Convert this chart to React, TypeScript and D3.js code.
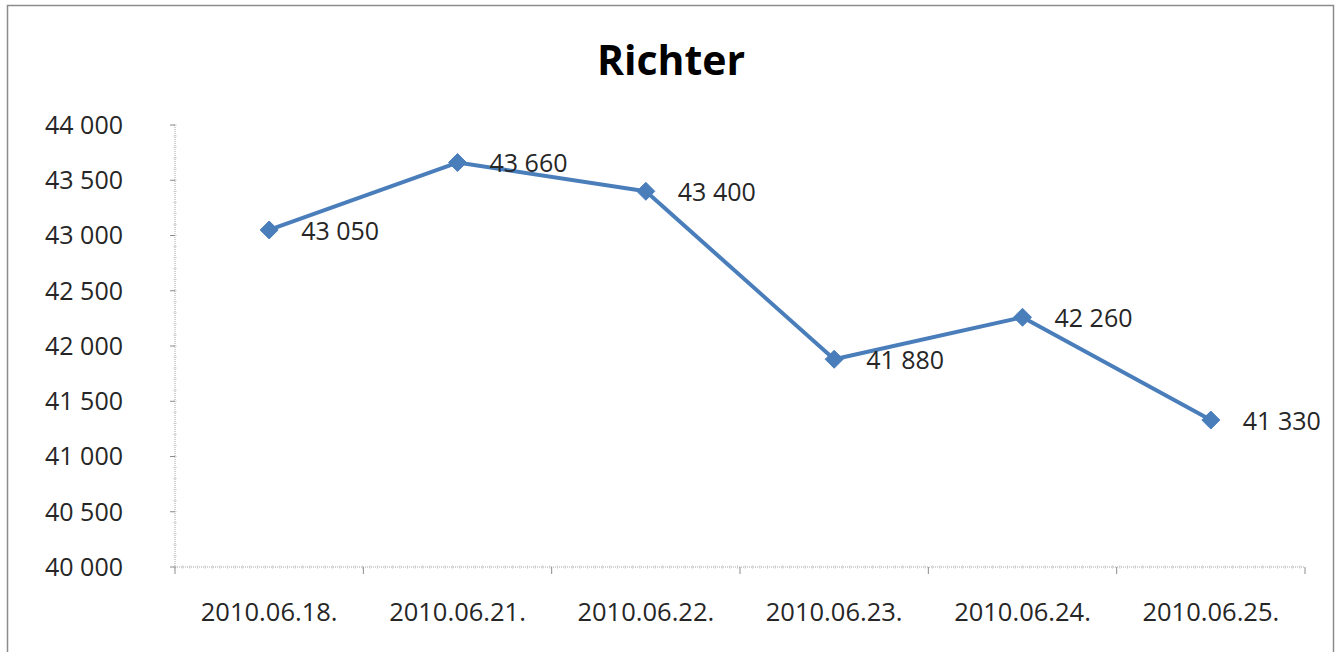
import React from "react";
import * as d3 from "d3";

const categories = ["2010.06.18.", "2010.06.21.", "2010.06.22.", "2010.06.23.", "2010.06.24.", "2010.06.25."];
const values = [43050, 43660, 43400, 41880, 42260, 41330];
const yTicks = [40000, 40500, 41000, 41500, 42000, 42500, 43000, 43500, 44000];
const title = "Richter";

const W = 1338, H = 652;
const fmt = (v: number) => d3.format(",")(v).replace(/,/g, " ");

export default function App() {
  const x = d3.scaleBand<string>().domain(categories).range([175, 1305]);
  const y = d3.scaleLinear().domain([40000, 44000]).range([567, 125]);
  const line = d3.line<number>()
    .x((_, i) => (x(categories[i]) as number) + x.bandwidth() / 2)
    .y((d) => y(d));
  const minor = d3.range(40000, 44001, 100);
  const font = "'Open Sans', sans-serif";
  const fs = 25;
  const xEdges = categories.map((c) => x(c) as number).concat([1305]);
  const r = 9;
  const diamond = `M0,${-r}L${r},0L0,${r}L${-r},0Z`;
  return (
    <svg width={W} height={H} style={{ position: "absolute", left: 0, top: 0 }}>
      <rect x={0} y={0} width={W} height={H} fill="#fff" />
      <rect x={7.5} y={5.5} width={1326} height={660} fill="#fff" stroke="#8c8c8c" strokeWidth={1.5} />
      <text x={671} y={75} textAnchor="middle" fontFamily={font} fontWeight="bold" fontSize={41} fill="#000">{title}</text>
      {/* y axis */}
      <line x1={175} x2={175} y1={125} y2={567} stroke="#a6a6a6" strokeWidth={1} strokeDasharray="1,1" />
      {minor.map((v) => (
        <line key={"m" + v} x1={173} x2={177} y1={y(v)} y2={y(v)} stroke="#c8c8c8" strokeWidth={0.6} />
      ))}
      {yTicks.map((v) => (
        <g key={v}>
          <line x1={170} x2={175} y1={y(v)} y2={y(v)} stroke="#8c8c8c" />
          <text x={123} y={y(v)} dy="0.35em" textAnchor="end" fontFamily={font} fontSize={fs} fill="#262626">{fmt(v)}</text>
        </g>
      ))}
      {/* x axis */}
      <line x1={175} x2={1305} y1={567} y2={567} stroke="#a6a6a6" strokeWidth={1} strokeDasharray="1,1" />
      {d3.range(175, 1306, 7.5).map((px) => (
        <line key={"xm" + px} x1={px} x2={px} y1={565} y2={569} stroke="#c8c8c8" strokeWidth={0.6} />
      ))}
      {xEdges.map((px, i) => (
        <line key={"xt" + i} x1={px} x2={px} y1={567} y2={574} stroke="#8c8c8c" />
      ))}
      {categories.map((c) => (
        <text key={c} x={(x(c) as number) + x.bandwidth() / 2} y={612} dy="0.35em" textAnchor="middle" fontFamily={font} fontSize={25.5} fill="#262626">{c}</text>
      ))}
      <path d={line(values) as string} fill="none" stroke="#4a7ebb" strokeWidth={4} strokeLinejoin="round" />
      {values.map((v, i) => {
        const cx = (x(categories[i]) as number) + x.bandwidth() / 2;
        return (
          <g key={i}>
            <path d={diamond} transform={`translate(${cx},${y(v)})`} fill="#4a7ebb" stroke="#4a7ebb" strokeWidth={1} />
            <text x={cx + 32} y={y(v) + 1} dy="0.35em" fontFamily={font} fontSize={fs} fill="#262626">{fmt(v)}</text>
          </g>
        );
      })}
    </svg>
  );
}
